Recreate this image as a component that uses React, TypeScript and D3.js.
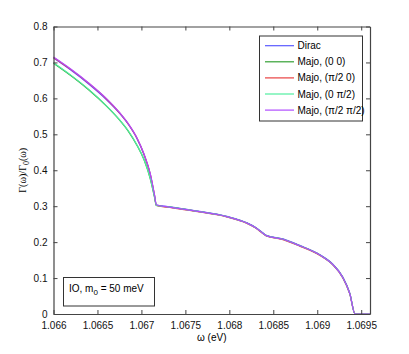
import React, { useEffect, useRef } from "react";
import { axisBottom, axisLeft, axisRight, axisTop, curveMonotoneX, line, scaleLinear, select } from "d3";

// energy grid (eV)
const omega = [
  1.066, 1.0662, 1.0664, 1.0666, 1.06675, 1.06685, 1.06695, 1.06703, 1.0671, 1.06715, 1.06717,
  1.0673, 1.0676, 1.06797, 1.0682, 1.0683, 1.06838, 1.06842, 1.06861, 1.0688, 1.06903, 1.06918,
  1.06929, 1.06937, 1.06943, 1.0696,
];

const dirac = [
  0.712, 0.678, 0.64, 0.597, 0.559, 0.528, 0.488, 0.443, 0.389, 0.328, 0.303, 0.299, 0.288, 0.272,
  0.254, 0.241, 0.226, 0.219, 0.209, 0.191, 0.165, 0.138, 0.103, 0.058, 0, 0,
];
const majo00 = [
  0.698, 0.663, 0.624, 0.579, 0.54, 0.509, 0.469, 0.429, 0.377, 0.324, 0.302, 0.298, 0.287, 0.271,
  0.253, 0.24, 0.225, 0.218, 0.208, 0.19, 0.164, 0.137, 0.102, 0.057, 0, 0,
];
const majoPi0 = [
  0.714, 0.68, 0.642, 0.599, 0.56, 0.529, 0.489, 0.444, 0.39, 0.329, 0.302, 0.297, 0.286, 0.27,
  0.252, 0.239, 0.224, 0.217, 0.207, 0.189, 0.163, 0.136, 0.101, 0.056, 0, 0,
];
const majo0Pi = [
  0.699, 0.664, 0.625, 0.58, 0.541, 0.51, 0.47, 0.43, 0.378, 0.325, 0.302, 0.298, 0.287, 0.271,
  0.253, 0.24, 0.225, 0.218, 0.208, 0.19, 0.164, 0.137, 0.102, 0.057, 0, 0,
];
const majoPiPi = [
  0.715, 0.681, 0.643, 0.6, 0.561, 0.53, 0.49, 0.445, 0.391, 0.33, 0.304, 0.298, 0.287, 0.271,
  0.253, 0.24, 0.225, 0.218, 0.208, 0.19, 0.164, 0.137, 0.102, 0.057, 0, 0,
];

const seriesNames = ["Dirac", "Majo, (0 0)", "Majo, (\u03C0/2 0)", "Majo, (0 \u03C0/2)", "Majo, (\u03C0/2 \u03C0/2)"];
const seriesValues = [dirac, majo00, majoPi0, majo0Pi, majoPiPi];
const seriesColors = ["#5a5aff", "#33a033", "#e84040", "#50eea0", "#b04cff"];

const xTicks = [1.066, 1.0665, 1.067, 1.0675, 1.068, 1.0685, 1.069, 1.0695];
const yTicks = [0, 0.1, 0.2, 0.3, 0.4, 0.5, 0.6, 0.7, 0.8];

const W = 409;
const H = 354;
const margin = { top: 26.5, right: 39, bottom: 40, left: 53.5 };

export default function App() {
  const ref = useRef<SVGSVGElement>(null);

  useEffect(() => {
    const svg = select(ref.current);
    svg.selectAll("*").remove();

    const x = scaleLinear().domain([1.066, 1.0696]).range([margin.left, W - margin.right]);
    const y = scaleLinear().domain([0, 0.8]).range([H - margin.bottom, margin.top]);
    const font = "'Liberation Sans', Arial, sans-serif";
    const serif = "'Liberation Serif', 'Times New Roman', serif";

    const g = svg.append("g");

    // curves
    seriesValues.forEach((vals, k) => {
      const pts = omega.map((o, i) => [o, vals[i]] as [number, number]);
      g.append("path")
        .datum(pts)
        .attr("fill", "none")
        .attr("stroke", seriesColors[k])
        .attr("stroke-width", 1.2)
        .attr(
          "d",
          line<[number, number]>()
            .x((d) => x(d[0]))
            .y((d) => y(d[1]))
            .curve(curveMonotoneX)
        );
    });

    // axes, ticks inward on all sides
    const styleAxis = (sel: any) => {
      sel.select(".domain").attr("stroke", "#444").attr("stroke-width", 1.2);
      sel.selectAll(".tick line").attr("stroke", "#444");
      sel.selectAll("text").attr("font-family", font).attr("font-size", 10).attr("fill", "#111");
    };

    g.append("g")
      .attr("transform", `translate(0,${y(0)})`)
      .call(axisBottom(x).tickValues(xTicks).tickSize(-4).tickSizeOuter(0).tickPadding(8).tickFormat((d: any) => String(+d)))
      .call(styleAxis);
    g.append("g")
      .attr("transform", `translate(0,${y(0.8)})`)
      .call(axisTop(x).tickValues(xTicks).tickSize(-4).tickSizeOuter(0).tickFormat(() => ""))
      .call(styleAxis);
    g.append("g")
      .attr("transform", `translate(${x.range()[0]},0)`)
      .call(axisLeft(y).tickValues(yTicks).tickSize(-4).tickSizeOuter(0).tickPadding(6).tickFormat((d: any) => String(+d)))
      .call(styleAxis);
    g.append("g")
      .attr("transform", `translate(${x.range()[1]},0)`)
      .call(axisRight(y).tickValues(yTicks).tickSize(-4).tickSizeOuter(0).tickFormat(() => ""))
      .call(styleAxis);

    // axis labels
    svg.append("text")
      .attr("x", (x.range()[0] + x.range()[1]) / 2)
      .attr("y", 341)
      .attr("text-anchor", "middle")
      .attr("font-family", font)
      .attr("font-size", 10)
      .text("\u03C9 (eV)");

    const yl = svg.append("text")
      .attr("transform", `translate(26,${(y(0) + y(0.8)) / 2}) rotate(-90)`)
      .attr("text-anchor", "middle")
      .attr("font-family", serif)
      .attr("font-size", 10);
    yl.append("tspan").text("\u0393(\u03C9)/\u0393");
    yl.append("tspan").attr("dy", 3).attr("font-size", 8).text("0");
    yl.append("tspan").attr("dy", -3).text("(\u03C9)");

    // legend
    const lg = svg.append("g");
    lg.append("rect")
      .attr("x", 259.5).attr("y", 36).attr("width", 103).attr("height", 85)
      .attr("fill", "white").attr("stroke", "#333").attr("stroke-width", 1);
    seriesNames.forEach((name, k) => {
      const ly = 45.7 + k * 16.1;
      lg.append("line")
        .attr("x1", 265).attr("x2", 294).attr("y1", ly).attr("y2", ly)
        .attr("stroke", seriesColors[k]).attr("stroke-width", 1.2);
      lg.append("text")
        .attr("x", 297.5).attr("y", ly + 3.5)
        .attr("font-family", font).attr("font-size", 10)
        .text(name);
    });

    // annotation box
    const ab = svg.append("g");
    ab.append("rect")
      .attr("x", 63.5).attr("y", 277.5).attr("width", 91).attr("height", 28.5)
      .attr("fill", "white").attr("stroke", "#333").attr("stroke-width", 1);
    const at = ab.append("text")
      .attr("x", 69).attr("y", 292)
      .attr("font-family", font).attr("font-size", 10);
    at.append("tspan").text("IO, m");
    at.append("tspan").attr("dy", 3).attr("font-size", 8).text("0");
    at.append("tspan").attr("dy", -3).text(" = 50 meV");
  }, []);

  return (
    <svg
      ref={ref}
      width={W}
      height={H}
      style={{ position: "absolute", left: 0, top: 0, background: "white" }}
    />
  );
}
